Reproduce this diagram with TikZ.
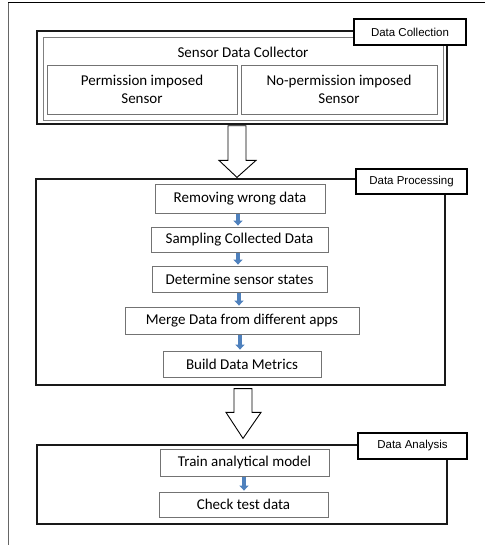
\documentclass[tikz,border=0pt]{standalone}
\usepackage{fontspec}
\setmainfont{Carlito}
\newfontfamily\arialfont{Liberation Sans}
\usetikzlibrary{arrows.meta,calc}
\definecolor{flowblue}{RGB}{79,129,189}

\begin{document}
\begin{tikzpicture}[x=1pt,y=-1pt,
  container/.style={draw=black!90,line width=1.2pt,inner sep=0pt},
  tag/.style={draw=black,line width=1.6pt,fill=white,inner sep=0pt,font=\arialfont\fontsize{11.5}{13}\selectfont},
  stepbox/.style={draw=black!55,line width=0.8pt,fill=white,inner sep=0pt,minimum height=26pt,font=\fontsize{15}{18}\selectfont},
  flow/.style={draw=flowblue,line width=3.5pt,-{Triangle[width=9pt,length=5pt]},shorten <=1pt,shorten >=1pt},
  hollow/.style={draw=black,line width=0.9pt,fill=white,line join=miter}]
 \useasboundingbox (0,0) rectangle (485,545);
 \draw [black!60,line width=1pt] (8,3) -- (8,545);
 \draw [black,line width=1pt] (8,3) -- (485,3);

 \node [container,line width=1.6pt,minimum width=410pt,minimum height=93pt] (collect) at (242,77.5) {};
 \node [draw=black!50,line width=0.8pt,minimum width=400pt,minimum height=83pt] (collectin) at (243,78.5) {};
 \node [font=\fontsize{15}{18}\selectfont] (sdc) at (243,52) {Sensor Data Collector};
 \node [stepbox,minimum width=190pt,minimum height=49pt,align=center] (perm) at (142,89.5) {Permission imposed\\Sensor};
 \node [stepbox,minimum width=196pt,minimum height=49pt,align=center] (noperm) at (339,89.5) {No-permission imposed\\Sensor};
 \node [tag,minimum width=112pt,minimum height=26pt] (tcollect) at (410,32) {Data Collection};

 \node [container,minimum width=409pt,minimum height=206pt] (process) at (240.5,282) {};
 \node [tag,minimum width=111pt,minimum height=25pt] (tprocess) at (411.5,181.5) {Data Processing};

 \node [container,minimum width=410pt,minimum height=79pt] (analyse) at (242,484.5) {};
 \node [tag,minimum width=109pt,minimum height=26pt] (tanalyse) at (412.5,446) {Data Analysis};

 \coordinate (h1) at ($(collect.south)+(-5,1)$);
 \coordinate (t1) at ($(process.north)+(-3.5,-1)$);
 \draw [hollow] ($(h1)+(-9,0)$) -- ($(h1)+(9,0)$) -- ($(t1)+(9,-17)$) -- ($(t1)+(19,-17)$)
   -- (t1) -- ($(t1)+(-18,-17)$) -- ($(t1)+(-9,-17)$) -- cycle;

 \coordinate (h2) at ($(process.south)+(2.5,3)$);
 \coordinate (t2) at ($(analyse.north)+(1,-6)$);
 \draw [hollow] ($(h2)+(-9,0)$) -- ($(h2)+(9,0)$) -- ($(t2)+(9,-26)$) -- ($(t2)+(18,-26)$)
   -- (t2) -- ($(t2)+(-17,-26)$) -- ($(t2)+(-9,-26)$) -- cycle;

 \node [stepbox,minimum width=170pt,minimum height=29pt] (remove) at (240,198.5) {Removing wrong data};
 \node [stepbox,minimum width=177pt,minimum height=25pt] (sample) at (239.5,239.5) {Sampling Collected Data};
 \node [stepbox,minimum width=175pt] (states) at (239.5,279) {Determine sensor states};
 \node [stepbox,minimum width=234pt,minimum height=27pt] (merge) at (242,320.5) {Merge Data from different apps};
 \node [stepbox,minimum width=158pt] (metrics) at (242,364) {Build Data Metrics};

 \node [stepbox,minimum width=169pt,minimum height=27pt] (train) at (244.5,462.5) {Train analytical model};
 \node [stepbox,minimum width=169pt,minimum height=25pt] (check) at (243.5,504.5) {Check test data};

 \draw [flow] (remove.south -| 238,0) -- (sample.north -| 238,0);
 \draw [flow] (sample.south -| 238,0) -- (states.north -| 238,0);
 \draw [flow] (states.south -| 239,0) -- (merge.north -| 239,0);
 \draw [flow] (merge.south -| 240,0) -- (metrics.north -| 240,0);
 \draw [flow] (train.south -| 244,0) -- (check.north -| 244,0);
\end{tikzpicture}
\end{document}
